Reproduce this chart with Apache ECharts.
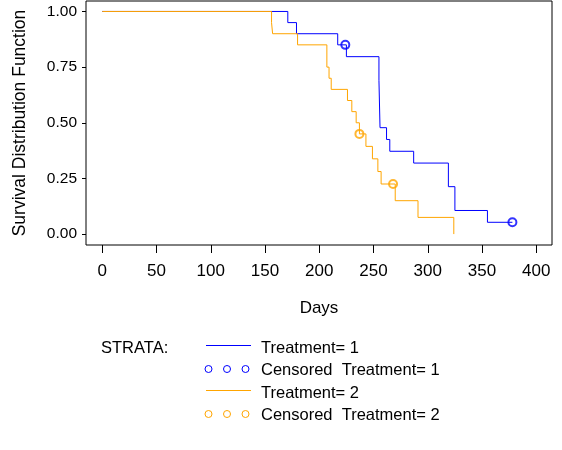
<!DOCTYPE html>
<html>
<head>
<meta charset="utf-8">
<script src="https://cdn.jsdelivr.net/npm/echarts@6/dist/echarts.min.js"></script>
<style>html,body{margin:0;padding:0;background:#fff}#c{width:562px;height:450px}</style>
</head>
<body>
<div id="c"></div>
<script>
// Treatment = 1 : event days and survival estimates
const t1Days = [0, 171, 179, 217, 225, 255, 256, 262, 265, 287, 319, 325, 355, 378];
const t1Surv = [1.0, 0.95, 0.90, 0.85, 0.797, 0.691, 0.478, 0.425, 0.372, 0.319, 0.213, 0.106, 0.053, 0.053];
// Censored observations, Treatment = 1
const c1Days = [224, 378];
const c1Surv = [0.85, 0.053];
// Treatment = 2
const t2Days = [0, 156, 157, 180, 207, 209, 211, 226, 230, 234, 237, 243, 249, 254, 257, 270, 291, 324];
const t2Surv = [1.0, 0.95, 0.90, 0.85, 0.75, 0.70, 0.65, 0.60, 0.55, 0.50, 0.45, 0.394, 0.338, 0.281, 0.225, 0.150, 0.075, 0.0];
// Censored observations, Treatment = 2
const c2Days = [237, 268];
const c2Surv = [0.45, 0.225];
// Tick values
const xTicks = [0, 50, 100, 150, 200, 250, 300, 350, 400];
const yTicks = [0, 0.25, 0.5, 0.75, 1.0];

const FONT = '"Liberation Sans", Arial, Helvetica, sans-serif';
const BLUE = '#0000FF';
const ORANGE = '#FFA500';
const zip = (a, b) => a.map((v, i) => [v, b[i]]);

const chart = echarts.init(document.getElementById('c'), null, {renderer: 'canvas'});

const legendRows = [
  {y: 349, label: 'Treatment= 1', kind: 'line', color: BLUE},
  {y: 371, label: 'Censored  Treatment= 1', kind: 'circ', color: BLUE},
  {y: 394, label: 'Treatment= 2', kind: 'line', color: ORANGE},
  {y: 416, label: 'Censored  Treatment= 2', kind: 'circ', color: ORANGE}
];
const graphics = [{
  type: 'text', left: 101, top: 349 - 9,
  style: {text: 'STRATA:', font: '16.5px ' + FONT, fill: '#000'}
}];
legendRows.forEach(r => {
  if (r.kind === 'line') {
    graphics.push({type: 'line', shape: {x1: 206, y1: r.y - 3.5, x2: 251, y2: r.y - 3.5},
      style: {stroke: r.color, lineWidth: 1}});
  } else {
    [208.5, 227, 245.5].forEach(cx => graphics.push({type: 'circle',
      shape: {cx: cx, cy: r.y - 2, r: 3.5}, style: {fill: 'none', stroke: r.color, lineWidth: 1}}));
  }
  graphics.push({type: 'text', left: 261, top: r.y - 9,
    style: {text: r.label, font: '16.5px ' + FONT, fill: '#000'}});
});

chart.setOption({
  animation: false,
  backgroundColor: '#fff',
  textStyle: {fontFamily: FONT},
  grid: {left: 86, right: 10, top: 1, bottom: 205, show: true, borderColor: '#000', borderWidth: 1},
  xAxis: {
    type: 'value', min: -15, max: 414.5,
    name: 'Days', nameLocation: 'middle', nameGap: 55,
    nameTextStyle: {fontSize: 17, color: '#000', fontFamily: FONT},
    axisLine: {show: false, onZero: false},
    splitLine: {show: false},
    axisTick: {show: true, length: 8, customValues: xTicks, lineStyle: {color: '#000'}},
    axisLabel: {customValues: xTicks, fontSize: 17, color: '#000', margin: 18, fontFamily: FONT}
  },
  yAxis: {
    type: 'value', min: -0.049, max: 1.047,
    name: 'Survival Distribution Function', nameLocation: 'middle', nameGap: 57, nameRotate: 90,
    nameTextStyle: {fontSize: 17.5, color: '#000', fontFamily: FONT},
    axisLine: {show: false, onZero: false},
    splitLine: {show: false},
    axisTick: {show: true, length: 4, customValues: yTicks, lineStyle: {color: '#000'}},
    axisLabel: {customValues: yTicks, fontSize: 15.5, color: '#000', margin: 9, fontFamily: FONT,
      formatter: v => v.toFixed(2)}
  },
  series: [
    {name: 'Treatment= 1', type: 'line', step: 'end', data: zip(t1Days, t1Surv),
      symbol: 'none', lineStyle: {color: BLUE, width: 1}, itemStyle: {color: BLUE}},
    {name: 'Treatment= 2', type: 'line', step: 'end', data: zip(t2Days, t2Surv),
      symbol: 'none', lineStyle: {color: ORANGE, width: 1}, itemStyle: {color: ORANGE}},
    {name: 'Censored Treatment= 1', type: 'scatter', data: zip(c1Days, c1Surv),
      symbol: 'emptyCircle', symbolSize: 8, itemStyle: {color: BLUE, borderColor: BLUE, borderWidth: 1}},
    {name: 'Censored Treatment= 2', type: 'scatter', data: zip(c2Days, c2Surv),
      symbol: 'emptyCircle', symbolSize: 8, itemStyle: {color: ORANGE, borderColor: ORANGE, borderWidth: 1}}
  ],
  graphic: graphics
});
</script>
</body>
</html>
